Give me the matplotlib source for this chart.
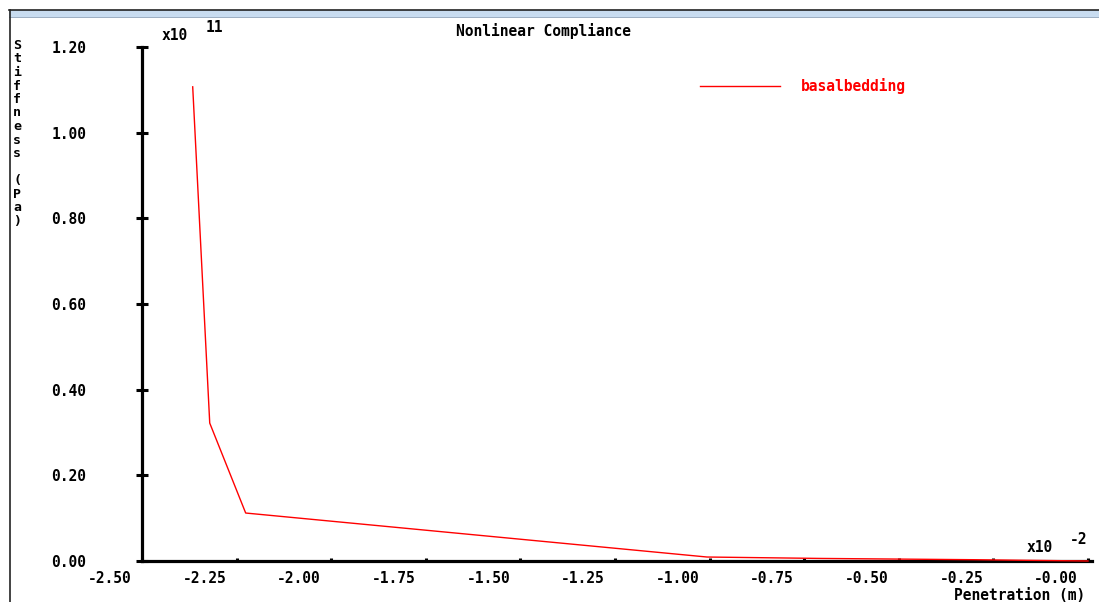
import matplotlib
matplotlib.use("Agg")
import matplotlib.pyplot as plt
from matplotlib.lines import Line2D
from matplotlib.patches import Rectangle
from matplotlib.transforms import ScaledTranslation

# Penetration (x1e-2 m) and stiffness (x1e11 Pa) for the basal bedding joint
penetration = [-2.366, -2.321, -2.226, -1.007, -0.708, -0.30, 0.0]
stiffness = [1.107, 0.322, 0.112, 0.0093, 0.006, 0.003, 0.0]

x_ticks = [-2.50, -2.25, -2.00, -1.75, -1.50, -1.25, -1.00, -0.75, -0.50, -0.25, 0.0]
x_tick_labels = ["-2.50", "-2.25", "-2.00", "-1.75", "-1.50", "-1.25",
                 "-1.00", "-0.75", "-0.50", "-0.25", "-0.00"]
y_ticks = [0.0, 0.2, 0.4, 0.6, 0.8, 1.0, 1.2]
y_tick_labels = ["0.00", "0.20", "0.40", "0.60", "0.80", "1.00", "1.20"]

series_name = "basalbedding"
title = "Nonlinear Compliance"
x_label = "Penetration (m)"
y_label = "Stiffness (Pa)"

W, H = 1099, 602
DPI = 100
FONT = ["DejaVu Sans Mono"]
FS = 10.5

fig = plt.figure(figsize=(W / DPI, H / DPI), dpi=DPI)
fig.patch.set_facecolor("white")


def fx(px):
    return px / W


def fy(py):
    return 1 - py / H


# window frame: title strip and left border
fig.add_artist(Rectangle((fx(9), fy(17)), 1 - fx(9), fy(10) - fy(17),
                         transform=fig.transFigure, facecolor="#c8dcf0",
                         edgecolor="none", zorder=0))
fig.add_artist(Line2D([fx(9), 1], [fy(10), fy(10)], transform=fig.transFigure,
                      color="#222222", lw=1.2))
fig.add_artist(Line2D([fx(9), 1], [fy(17), fy(17)], transform=fig.transFigure,
                      color="#8aa0b8", lw=0.6))
fig.add_artist(Line2D([fx(9.5), fx(9.5)], [0, fy(10)], transform=fig.transFigure,
                      color="#222222", lw=1.2))

ax_left, ax_right, ax_top, ax_bottom = 142, 1092, 47, 561
ax = fig.add_axes([fx(ax_left), fy(ax_bottom), fx(ax_right - ax_left),
                   fy(ax_top) - fy(ax_bottom)])
px_per_unit = (1088 - 142) / 2.5
ax.set_xlim(-2.5, (ax_right - 1088) / px_per_unit)
ax.set_ylim(0, 1.2)

for side in ("top", "right"):
    ax.spines[side].set_visible(False)
for side in ("left", "bottom"):
    ax.spines[side].set_linewidth(2.3)
    ax.spines[side].set_color("black")

ax.plot(penetration, stiffness, color="#ff0000", lw=1.0, zorder=5, clip_on=False)

ax.set_xticks(x_ticks, labels=x_tick_labels)
ax.set_yticks(y_ticks, labels=y_tick_labels)
ax.tick_params(axis="x", direction="in", length=2.5, width=2.2, pad=7.5,
               labelsize=FS)
ax.tick_params(axis="y", direction="inout", length=8, width=2.2, pad=36,
               labelsize=FS)
for lab in ax.get_xticklabels() + ax.get_yticklabels():
    lab.set_fontfamily(FONT)
    lab.set_fontweight("bold")
# x labels sit to the left of their tick marks
shift = ScaledTranslation(-32 / DPI, 0, fig.dpi_scale_trans)
for tick in ax.xaxis.get_major_ticks():
    tick.label1.set_transform(tick.label1.get_transform() + shift)

txt = dict(family=FONT, fontweight="bold", fontsize=FS)

fig.text(fx(543), fy(31), title, ha="center", va="center", **txt)

# exponent markers
fig.text(fx(175), fy(35), "x10", ha="center", va="center", **txt)
fig.text(fx(214), fy(27), "11", ha="center", va="center", **txt)
fig.text(fx(1040), fy(548), "x10", ha="center", va="center", **txt)
fig.text(fx(1079), fy(539), "-2", ha="center", va="center", **txt)

# axis titles
fig.text(fx(1085), fy(600), x_label, ha="right", va="baseline", **txt)
fig.text(fx(17), fy(39), "\n".join(y_label), ha="center", va="top",
         linespacing=1.05, family=FONT, fontweight="bold", fontsize=9.5)

# legend
fig.add_artist(Line2D([fx(700), fx(780)], [fy(86), fy(86)],
                      transform=fig.transFigure, color="#ff0000", lw=1.0))
fig.text(fx(801), fy(86), series_name, ha="left", va="center", color="#ff0000",
         **txt)

fig.savefig("out.png", dpi=DPI)
